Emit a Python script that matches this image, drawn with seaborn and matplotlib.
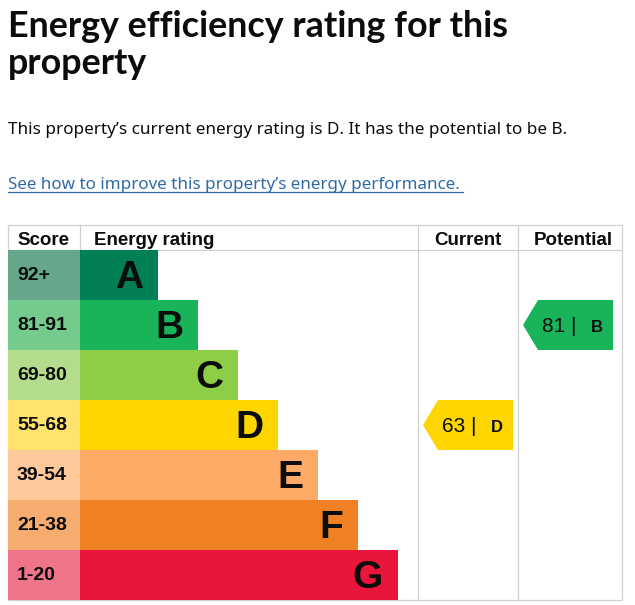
import matplotlib
matplotlib.use("Agg")
import matplotlib.pyplot as plt
from matplotlib.patches import Polygon
from matplotlib.lines import Line2D
import seaborn as sns

# ---------------- data ----------------
ratings = ["A", "B", "C", "D", "E", "F", "G"]
score_ranges = ["92+", "81-91", "69-80", "55-68", "39-54", "21-38", "1-20"]
bar_lengths = [78, 118, 158, 198, 238, 278, 318]
bar_colors = ["#008054", "#19b459", "#8dce46", "#ffd500", "#fcaa65", "#ef8023", "#e9153b"]
score_colors = ["#66a68b", "#74cb8d", "#b3dc8c", "#ffe26c", "#fdc99b", "#f5ac6e", "#ef7389"]
score_cell = [1, 1, 1, 1, 1, 1, 1]
column_headers = ["Score", "Energy rating", "Current", "Potential"]
current_score, current_rating = 63, "D"
potential_score, potential_rating = 81, "B"
title_lines = ["Energy efficiency rating for this", "property"]
subtitle = "This property\u2019s current energy rating is D. It has the potential to be B."
link_text = "See how to improve this property\u2019s energy performance."

W, H = 635, 605
TXT = "#0b0c0c"
GRID = "#d0d0d0"
LINK = "#2f6aa8"
ARIAL = ["Liberation Sans", "DejaVu Sans"]

fig = plt.figure(figsize=(W / 100, H / 100), dpi=100)
fig.patch.set_facecolor("white")
renderer = fig.canvas.get_renderer()


def px_axes(x0, y0, x1, y1, z):
    return fig.add_axes([x0 / W, 1 - y1 / H, (x1 - x0) / W, (y1 - y0) / H], zorder=z)


def fit_text(t, target):
    for _ in range(4):
        w = t.get_window_extent(renderer).width
        t.set_fontsize(t.get_fontsize() * target / w)


# ---------------- header texts ----------------
t1 = fig.text(8 / W, 1 - 36.7 / H, title_lines[0], fontsize=24, fontweight="bold",
              family=["Lato", "DejaVu Sans"], color=TXT, va="baseline", ha="left")
fit_text(t1, 502)
fig.text(8 / W, 1 - 74 / H, title_lines[1], fontsize=t1.get_fontsize(), fontweight="bold",
         family=["Lato", "DejaVu Sans"], color=TXT, va="baseline", ha="left")
t2 = fig.text(8 / W, 1 - 134 / H, subtitle, fontsize=13, family=["Noto Sans", "DejaVu Sans"],
              color=TXT, va="baseline", ha="left")
fit_text(t2, 559)
t3 = fig.text(8 / W, 1 - 189 / H, link_text, fontsize=13, family=["Noto Sans", "DejaVu Sans"],
              color=LINK, va="baseline", ha="left")
fit_text(t3, 455)
fig.add_artist(Line2D([8 / W, 463 / W], [1 - 192.5 / H, 1 - 192.5 / H],
                      transform=fig.transFigure, color=LINK, lw=0.9))

# ---------------- table frame (x in px, y in row units) ----------------
axt = px_axes(0, 225, W, 600, 1)
axt.set_xlim(0, W)
axt.set_ylim(6.5, -1.0)
axt.set_axis_off()
lw = 0.9
for yv in (-1.0, -0.5, 6.5):
    axt.plot([8, 622], [yv, yv], color=GRID, lw=lw, clip_on=False, solid_capstyle="butt")
for xv in (8, 418, 518, 622):
    axt.plot([xv, xv], [-1.0, 6.5], color=GRID, lw=lw, clip_on=False, solid_capstyle="butt")
axt.plot([80, 80], [-1.0, -0.5], color=GRID, lw=lw, clip_on=False)

hdr_kw = dict(fontsize=13.5, fontweight="bold", family=ARIAL, color=TXT, va="baseline")
axt.text(17, -0.6, column_headers[0], ha="left", **hdr_kw)
axt.text(94, -0.6, column_headers[1], ha="left", **hdr_kw)
axt.text(468, -0.6, column_headers[2], ha="center", **hdr_kw)
axt.text(573, -0.6, column_headers[3], ha="center", **hdr_kw)


def arrow(col_left, score, rating):
    r = ratings.index(rating)
    col = bar_colors[r]
    tip = col_left + 5
    pts = [(tip, r), (tip + 15, r - 0.5), (tip + 90, r - 0.5),
           (tip + 90, r + 0.5), (tip + 15, r + 0.5)]
    axt.add_patch(Polygon(pts, closed=True, facecolor=col, edgecolor="none"))
    axt.text(tip + 19, r + 0.14, f"{score} |", fontsize=15, family=ARIAL,
             color=TXT, va="baseline", ha="left")
    axt.text(tip + 68, r + 0.14, rating, fontsize=12, fontweight="bold",
             family=ARIAL, color=TXT, va="baseline", ha="left")


arrow(418, current_score, current_rating)
arrow(518, potential_score, potential_rating)

# ---------------- score column ----------------
axs = px_axes(8, 250, 80, 600, 2)
sns.barplot(x=score_cell, y=ratings, hue=ratings, palette=score_colors, orient="h",
            width=1.0, saturation=1, legend=False, errorbar=None, linewidth=0, ax=axs)
axs.set_xlim(0, 1)
axs.set_ylim(6.5, -0.5)
axs.set_axis_off()
for i, s in enumerate(score_ranges):
    axs.text(9 / 72, i + 0.1, s, fontsize=14, fontweight="bold", family=ARIAL,
             color=TXT, va="baseline", ha="left")

# ---------------- rating bars ----------------
axb = px_axes(80, 250, 418, 600, 2)
sns.barplot(x=bar_lengths, y=ratings, hue=ratings, palette=bar_colors, orient="h",
            width=1.0, saturation=1, legend=False, errorbar=None, linewidth=0, ax=axb)
axb.set_xlim(0, 338)
axb.set_ylim(6.5, -0.5)
axb.set_axis_off()
for i, (r, L) in enumerate(zip(ratings, bar_lengths)):
    axb.text(L - 15, i + 0.26, r, fontsize=28, fontweight="bold", family=ARIAL,
             color=TXT, va="baseline", ha="right")

fig.savefig("out.png", dpi=100, facecolor="white")
